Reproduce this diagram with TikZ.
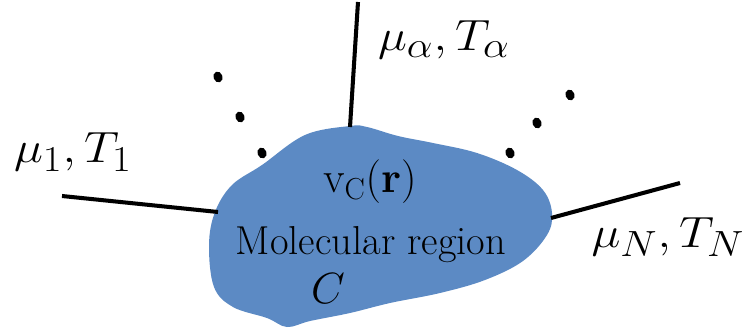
\documentclass[tikz,border=0pt]{standalone}
\usepackage{amsmath}
\definecolor{blobblue}{RGB}{92,138,196}
\begin{document}
\begin{tikzpicture}[
    x=0.02cm, y=-0.02cm,
    region/.style={
        fill=blobblue,
        draw=none
    },
    lead/.style={
        black,
        line width=2.3pt
    },
    reservoir/.style={
        font=\fontsize{32}{36}\selectfont,
        xscale=1.12,
        inner sep=0pt
    },
    inside/.style={
        font=\fontsize{23}{27}\selectfont,
        inner sep=0pt
    },
    inside math/.style={
        font=\fontsize{27}{31}\selectfont,
        inner sep=0pt
    }
]
\useasboundingbox (0,0) rectangle (747,331);

%% --- Molecular region ---
\fill[region] plot[smooth cycle, tension=0.6] coordinates {
    (350,126) (305,135) (262,165) (232,185) (215,212) (209,245)
    (214,287) (233,307) (267,318) (287,327) (310,321) (350,313)
    (390,303) (440,293) (485,280) (523,261) (547,235) (552,213)
    (543,190) (517,170) (477,153) (433,143) (398,136) (367,127)};

%% --- Points d'attache ---
\coordinate (B1) at (218,212);
\coordinate (Ba) at (350,127);
\coordinate (BN) at (551,218);
\coordinate (E1) at (62,196);
\coordinate (Ea) at (358,2);
\coordinate (EN) at (680,183);

%% --- Conducteurs ---
\draw[lead] (E1) -- (B1);
\draw[lead] (Ea) -- (Ba);
\draw[lead] (EN) -- (BN);

%% --- Points de suspension ---
\foreach \px/\py in {218/77, 240/117, 262/153, 570/95, 537/123, 510/153} {
    \fill[black, rotate around={20:(\px,\py)}] (\px,\py) ellipse (4.5 and 5.5);
}

%% --- Étiquettes ---
\node[reservoir] (L1) at (73,152)  {$\mu_1, T_1$};
\node[reservoir] (La) at (444,40)  {$\mu_\alpha, T_\alpha$};
\node[reservoir] (LN) at (668,237) {$\mu_N, T_N$};
\node[inside math] (V) at (370,182) {$\mathrm{v}_{\mathrm{C}}(\mathbf{r})$};
\node[inside] (M) at (371,245) {Molecular region};
\node[inside math] (C) at (328,289) {$C$};

\end{tikzpicture}
\end{document}
